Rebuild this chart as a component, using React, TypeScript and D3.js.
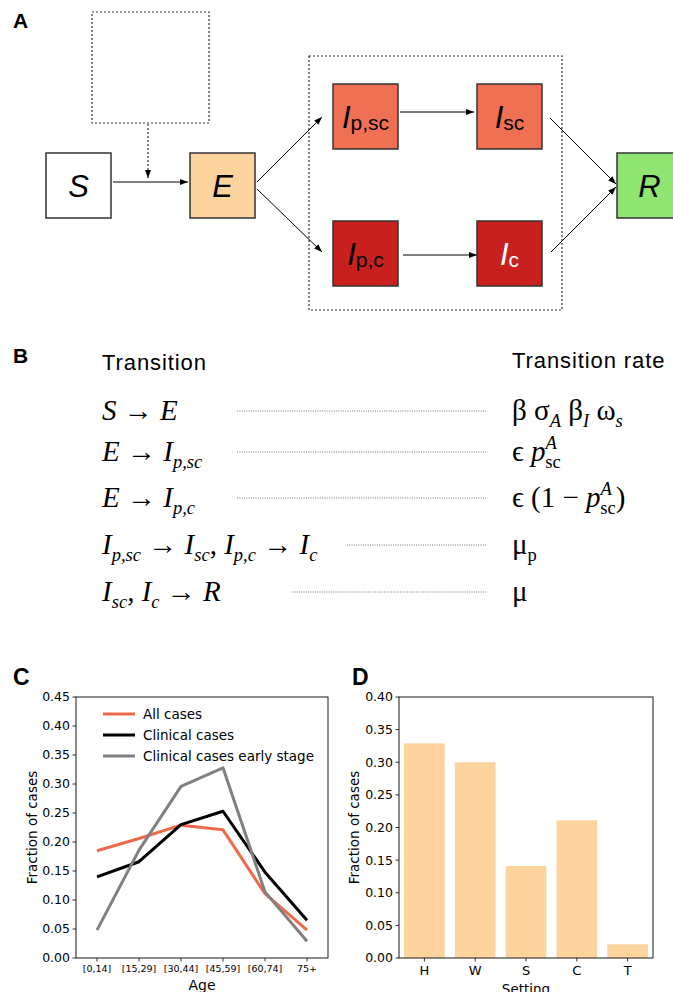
import * as d3 from 'd3';

// ---- panel C data
const ageGroups = ['[0,14]', '[15,29]', '[30,44]', '[45,59]', '[60,74]', '75+'];
const allCases = [0.185, 0.206, 0.229, 0.221, 0.111, 0.048];
const clinicalCases = [0.14, 0.166, 0.23, 0.253, 0.148, 0.065];
const clinicalEarly = [0.048, 0.186, 0.296, 0.328, 0.114, 0.029];
const ageTicks = [0, 0.05, 0.1, 0.15, 0.2, 0.25, 0.3, 0.35, 0.4, 0.45];

// ---- panel D data
const settings = ['H', 'W', 'S', 'C', 'T'];
const settingFractions = [0.329, 0.3, 0.141, 0.211, 0.021];
const settingTicks = [0, 0.05, 0.1, 0.15, 0.2, 0.25, 0.3, 0.35, 0.4];

const SANS = '"Liberation Sans", Arial, Helvetica, sans-serif';
const SERIF = '"Liberation Serif", "DejaVu Serif", serif';
const MPL = '"DejaVu Sans", sans-serif';

const ORANGE = '#ef6a4c';
const PEACH = '#fdd49e';

type Seg = { t: string; it?: boolean; sub?: string; subIt?: boolean; sup?: string };

// ---- panel B content
const transitions: Seg[][] = [
  [{ t: 'S', it: true }, { t: ' → ' }, { t: 'E', it: true }],
  [{ t: 'E', it: true }, { t: ' → ' }, { t: 'I', it: true, sub: 'p,sc', subIt: true }],
  [{ t: 'E', it: true }, { t: ' → ' }, { t: 'I', it: true, sub: 'p,c', subIt: true }],
  [
    { t: 'I', it: true, sub: 'p,sc', subIt: true },
    { t: ' → ' },
    { t: 'I', it: true, sub: 'sc', subIt: true },
    { t: ', ' },
    { t: 'I', it: true, sub: 'p,c', subIt: true },
    { t: ' → ' },
    { t: 'I', it: true, sub: 'c', subIt: true },
  ],
  [
    { t: 'I', it: true, sub: 'sc', subIt: true },
    { t: ', ' },
    { t: 'I', it: true, sub: 'c', subIt: true },
    { t: ' → ' },
    { t: 'R', it: true },
  ],
];
const rates: Seg[][] = [
  [{ t: 'β σ', sub: 'A', subIt: true }, { t: ' β', sub: 'I', subIt: true }, { t: ' ω', sub: 's', subIt: true }],
  [{ t: 'ϵ ' }, { t: 'p', it: true, sup: 'A', sub: 'sc' }],
  [{ t: 'ϵ (1 − ' }, { t: 'p', it: true, sup: 'A', sub: 'sc' }, { t: ')' }],
  [{ t: 'μ', sub: 'p' }],
  [{ t: 'μ' }],
];
const rowBaselines = [420, 461, 507, 554, 601];
const leaderStarts = [237, 237, 237, 347, 292];

const MathLine = ({ x, y, segs, size }: { x: number; y: number; segs: Seg[]; size: number }) => {
  const subSize = size * 0.64;
  const subDy = size * 0.24;
  const supDy = size * 0.4;
  const parts: JSX.Element[] = [];
  let shift = 0;
  segs.forEach((s, i) => {
    parts.push(
      <tspan key={`m${i}`} dy={-shift} fontStyle={s.it ? 'italic' : 'normal'} fontSize={size}>
        {s.t}
      </tspan>
    );
    shift = 0;
    if (s.sup) {
      parts.push(
        <tspan key={`p${i}`} dy={-supDy} fontStyle="italic" fontSize={subSize}>
          {s.sup}
        </tspan>
      );
      parts.push(
        <tspan key={`s${i}`} dx={-subSize * 0.62} dy={supDy + subDy} fontStyle="normal" fontSize={subSize}>
          {s.sub}
        </tspan>
      );
      shift = subDy;
    } else if (s.sub) {
      parts.push(
        <tspan key={`s${i}`} dy={subDy} fontStyle={s.subIt ? 'italic' : 'normal'} fontSize={subSize}>
          {s.sub}
        </tspan>
      );
      shift = subDy;
    }
  });
  return (
    <text x={x} y={y} fontFamily={SERIF} fill="#000">
      {parts}
    </text>
  );
};

// ---- panel A layout
type Node = { id: string; main: string; sub?: string; x: number; y: number; fill: string; color?: string };
const BOX = 65;
const nodes: Node[] = [
  { id: 'S', main: 'S', x: 46, y: 153, fill: '#ffffff' },
  { id: 'E', main: 'E', x: 190, y: 153, fill: PEACH },
  { id: 'Ipsc', main: 'I', sub: 'p,sc', x: 333, y: 84, fill: '#f07054' },
  { id: 'Isc', main: 'I', sub: 'sc', x: 477, y: 84, fill: '#f07054' },
  { id: 'Ipc', main: 'I', sub: 'p,c', x: 333, y: 221, fill: '#c8201f' },
  { id: 'Ic', main: 'I', sub: 'c', x: 477, y: 221, fill: '#c8201f', color: '#fff' },
  { id: 'R', main: 'R', x: 617, y: 153, fill: '#90e471' },
];
const arrows: [number, number, number, number][] = [
  [113, 182, 188, 182],
  [257, 182, 322, 117],
  [257, 189, 322, 252],
  [400, 112, 474, 112],
  [403, 255, 477, 255],
  [550, 118, 616, 184],
  [551, 252, 616, 187],
];

const Diagram = () => (
  <g>
    <defs>
      <marker id="ah" viewBox="0 0 8 6" refX="8" refY="3" markerWidth="8" markerHeight="6" markerUnits="userSpaceOnUse" orient="auto">
        <path d="M0,0 L8,3 L0,6 z" fill="#000" />
      </marker>
    </defs>
    <rect x={92} y={12} width={117} height={111} fill="none" stroke="#333" strokeWidth={1.2} strokeDasharray="2,2" />
    <rect x={309} y={56} width={253} height={254} fill="none" stroke="#333" strokeWidth={1.2} strokeDasharray="2,2" />
    <line x1={148} y1={124} x2={148} y2={178} stroke="#333" strokeWidth={1.2} strokeDasharray="2,2" markerEnd="url(#ah)" />
    {arrows.map((a, i) => (
      <line key={i} x1={a[0]} y1={a[1]} x2={a[2]} y2={a[3]} stroke="#000" strokeWidth={1} markerEnd="url(#ah)" />
    ))}
    {nodes.map((n) => (
      <g key={n.id}>
        <rect x={n.x} y={n.y} width={BOX} height={BOX} fill={n.fill} stroke="#333" strokeWidth={1.5} />
        <text x={n.x + BOX / 2} y={n.y + 44} textAnchor="middle" fontFamily={SANS} fill={n.color || '#000'}>
          <tspan fontSize={31} fontStyle="italic">{n.main}</tspan>
          {n.sub && (
            <tspan fontSize={21} dy={2}>
              {n.sub}
            </tspan>
          )}
        </text>
      </g>
    ))}
  </g>
);

// ---- panel C/D frames
const C = { left: 76, right: 328, top: 697, bottom: 958 };
const D = { left: 399, right: 653, top: 697, bottom: 958 };

const YAxis = ({ scale, ticks, left }: { scale: d3.ScaleLinear<number, number>; ticks: number[]; left: number }) => (
  <g>
    {ticks.map((t) => (
      <g key={t} transform={`translate(${left},${scale(t)})`}>
        <line x1={-3.5} x2={0} stroke="#000" strokeWidth={0.8} />
        <text x={-6} dy="0.35em" textAnchor="end" fontFamily={MPL} fontSize={12.5} fill="#000">
          {t.toFixed(2)}
        </text>
      </g>
    ))}
  </g>
);

const Frame = ({ b }: { b: typeof C }) => (
  <rect x={b.left} y={b.top} width={b.right - b.left} height={b.bottom - b.top} fill="none" stroke="#000" strokeWidth={0.9} />
);

const PanelC = () => {
  const x = d3.scalePoint<string>().domain(ageGroups).range([C.left, C.right]).padding(0.5);
  const y = d3.scaleLinear().domain([0, 0.45]).range([C.bottom, C.top]);
  const line = d3
    .line<number>()
    .x((_, i) => x(ageGroups[i]) as number)
    .y((v) => y(v));
  const series = [
    { name: 'All cases', values: allCases, color: ORANGE },
    { name: 'Clinical cases', values: clinicalCases, color: '#000' },
    { name: 'Clinical cases early stage', values: clinicalEarly, color: '#808080' },
  ];
  return (
    <g>
      <text x={13} y={685} fontFamily={SANS} fontWeight="bold" fontSize={23}>C</text>
      {series.map((s) => (
        <path key={s.name} d={line(s.values) || ''} fill="none" stroke={s.color} strokeWidth={3} strokeLinejoin="round" />
      ))}
      <Frame b={C} />
      <YAxis scale={y} ticks={ageTicks} left={C.left} />
      {ageGroups.map((g) => (
        <g key={g} transform={`translate(${x(g)},${C.bottom})`}>
          <line y1={0} y2={3.5} stroke="#000" strokeWidth={0.8} />
          <text y={14} textAnchor="middle" fontFamily={MPL} fontSize={9.5}>{g}</text>
        </g>
      ))}
      <text x={(C.left + C.right) / 2} y={990} textAnchor="middle" fontFamily={MPL} fontSize={14}>Age</text>
      <text transform={`translate(36.5,${(C.top + C.bottom) / 2}) rotate(-90)`} textAnchor="middle" fontFamily={MPL} fontSize={13.5}>
        Fraction of cases
      </text>
      {series.map((s, i) => (
        <g key={s.name} transform={`translate(103,${714 + i * 21})`}>
          <line x1={0} x2={32} stroke={s.color} strokeWidth={3} />
          <text x={40} dy="0.35em" fontFamily={MPL} fontSize={13.5}>{s.name}</text>
        </g>
      ))}
    </g>
  );
};

const PanelD = () => {
  const x = d3.scaleBand<string>().domain(settings).range([D.left, D.right]).paddingInner(0.2).paddingOuter(0.1);
  const y = d3.scaleLinear().domain([0, 0.4]).range([D.bottom, D.top]);
  return (
    <g>
      <text x={352} y={685} fontFamily={SANS} fontWeight="bold" fontSize={23}>D</text>
      {settings.map((s, i) => (
        <rect key={s} x={x(s)} y={y(settingFractions[i])} width={x.bandwidth()} height={y(0) - y(settingFractions[i])} fill={PEACH} />
      ))}
      <Frame b={D} />
      <YAxis scale={y} ticks={settingTicks} left={D.left} />
      {settings.map((s) => (
        <g key={s} transform={`translate(${(x(s) as number) + x.bandwidth() / 2},${D.bottom})`}>
          <line y1={0} y2={3.5} stroke="#000" strokeWidth={0.8} />
          <text y={17} textAnchor="middle" fontFamily={MPL} fontSize={13}>{s}</text>
        </g>
      ))}
      <text x={(D.left + D.right) / 2} y={994} textAnchor="middle" fontFamily={MPL} fontSize={13.5}>Setting</text>
      <text transform={`translate(359,${(D.top + D.bottom) / 2}) rotate(-90)`} textAnchor="middle" fontFamily={MPL} fontSize={13.5}>
        Fraction of cases
      </text>
    </g>
  );
};

const PanelB = () => (
  <g>
    <text x={13} y={363} fontFamily={SANS} fontWeight="bold" fontSize={21}>B</text>
    <text x={102} y={370} fontFamily={SANS} fontSize={22} letterSpacing={0.9}>Transition</text>
    <text x={512} y={368} fontFamily={SANS} fontSize={22} letterSpacing={0.9}>Transition rate</text>
    {transitions.map((segs, i) => (
      <g key={i}>
        <MathLine x={102} y={rowBaselines[i]} segs={segs} size={29} />
        <line x1={leaderStarts[i]} x2={487} y1={rowBaselines[i] - 9} y2={rowBaselines[i] - 9} stroke="#555" strokeWidth={0.8} strokeDasharray="1,1.3" />
        <MathLine x={512} y={rowBaselines[i]} segs={rates[i]} size={29} />
      </g>
    ))}
  </g>
);

export default function App() {
  return (
    <div style={{ position: 'absolute', left: 0, top: 0 }}>
      <svg width={673} height={992} style={{ display: 'block', background: '#fff' }}>
        <text x={13} y={28} fontFamily={SANS} fontWeight="bold" fontSize={21}>A</text>
        <Diagram />
        <PanelB />
        <PanelC />
        <PanelD />
      </svg>
    </div>
  );
}
